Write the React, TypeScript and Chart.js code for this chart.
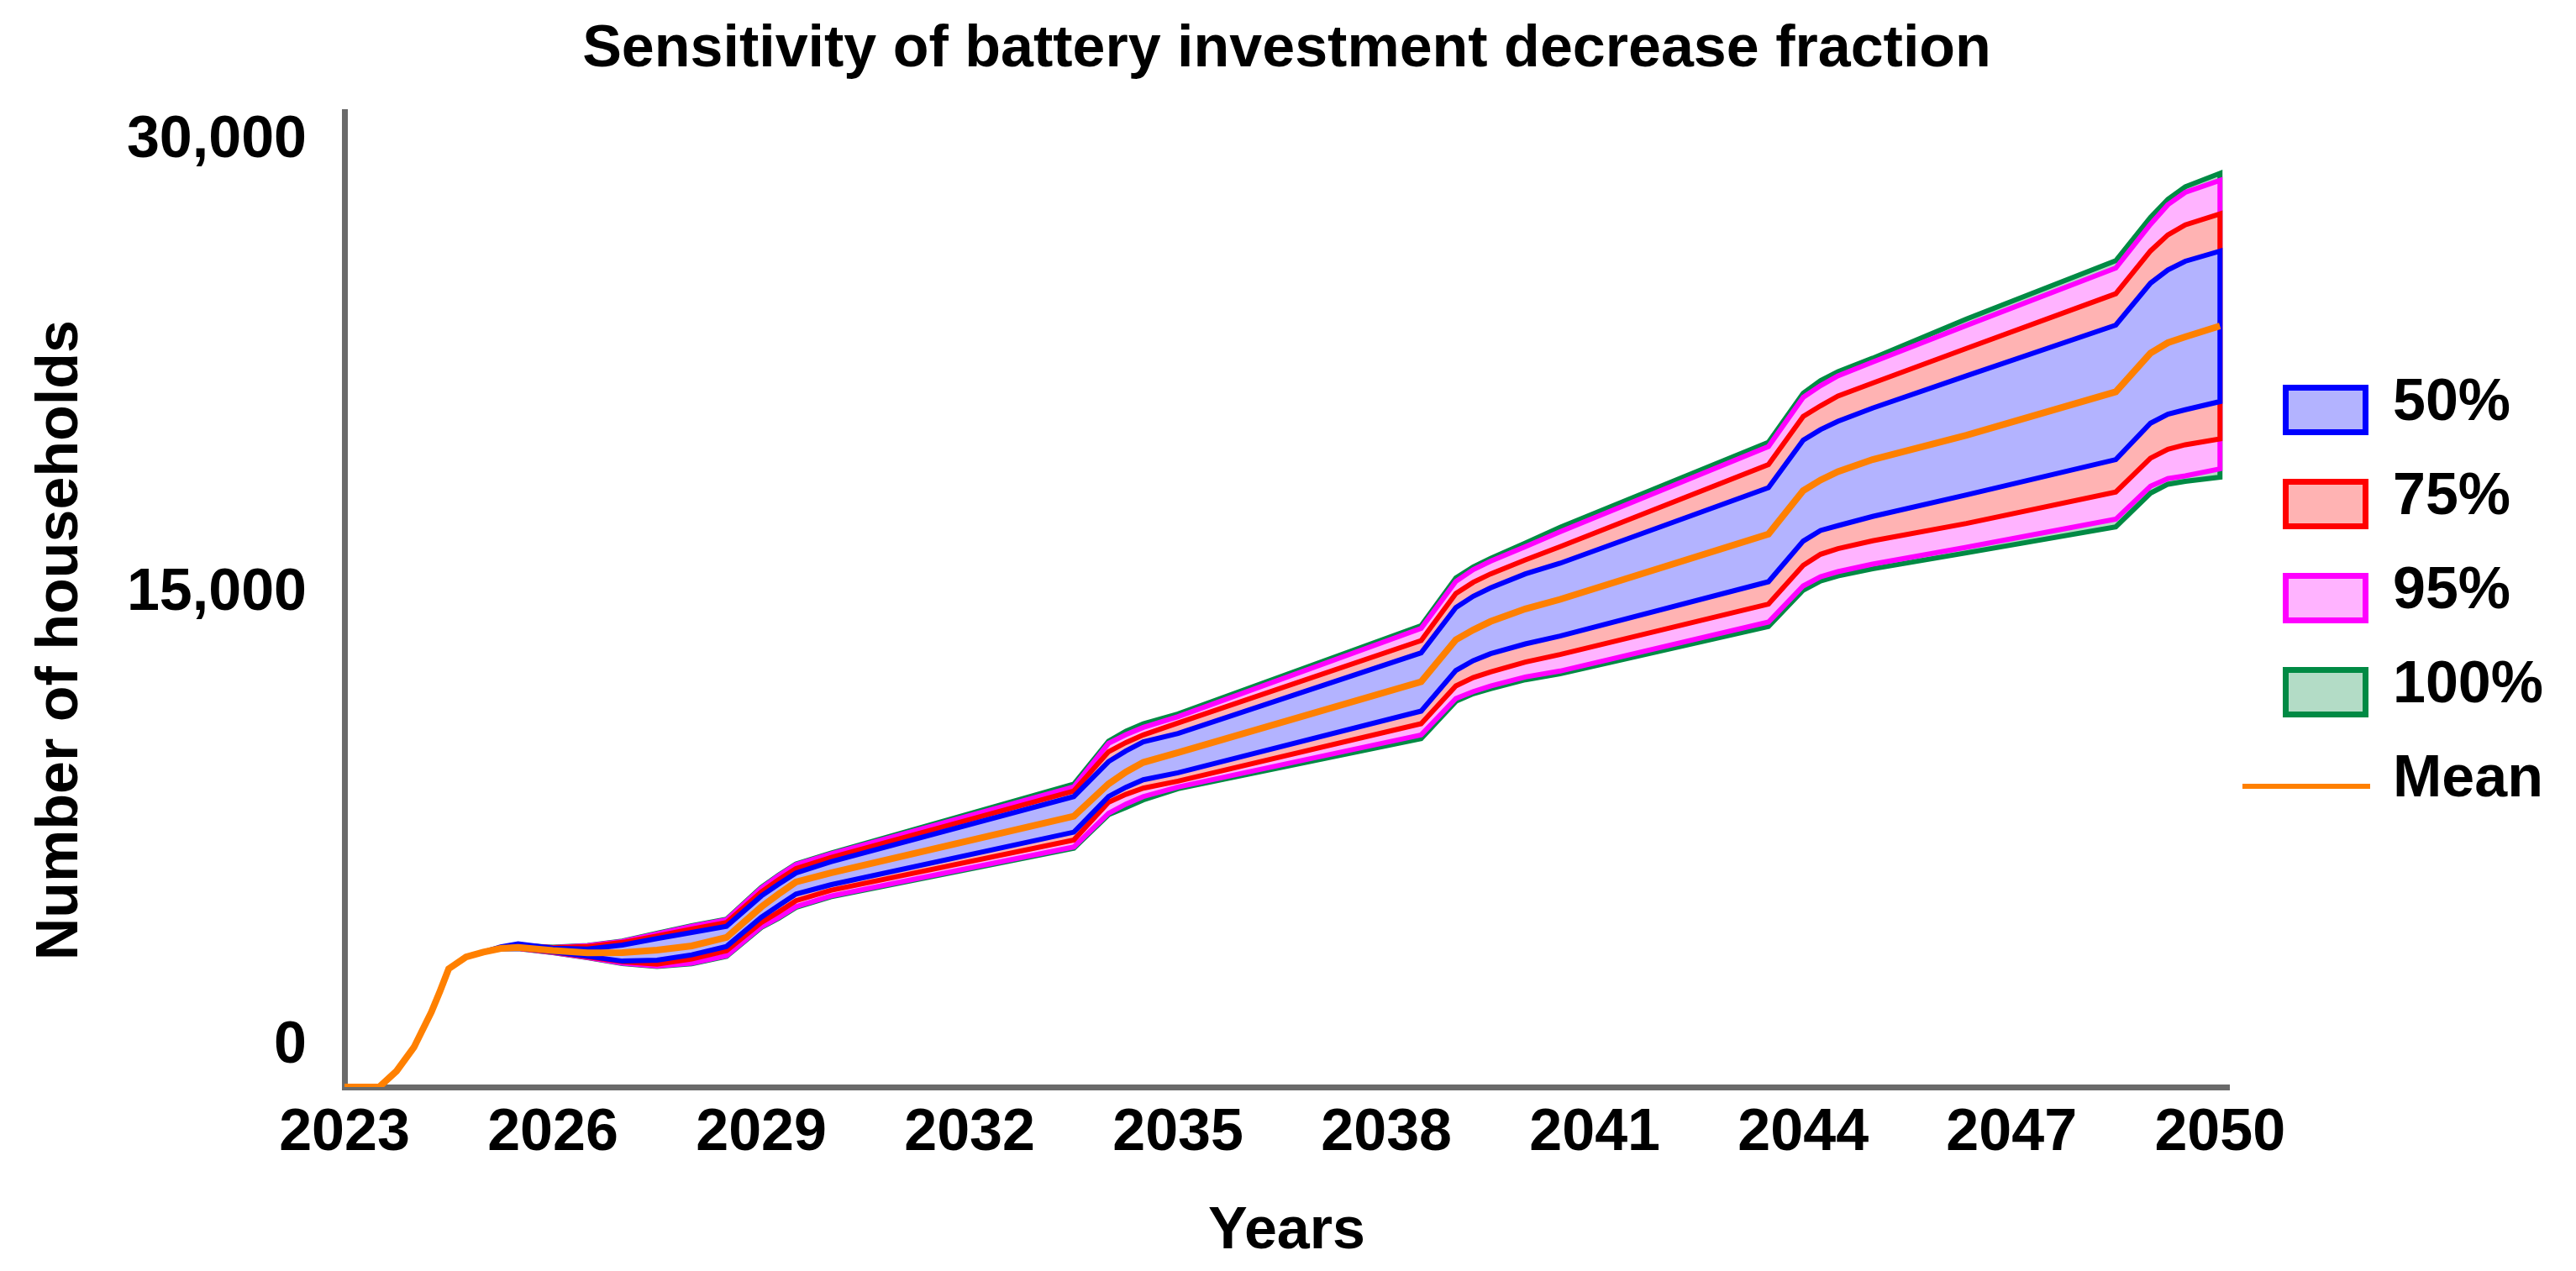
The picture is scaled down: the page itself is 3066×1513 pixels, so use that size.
import React, { useEffect, useRef } from 'react';
import { Chart, registerables } from 'chart.js';

Chart.register(...registerables);

// ---------------- data ----------------
const years = [2023, 2023.5, 2023.75, 2024, 2024.25, 2024.375, 2024.5, 2024.75, 2025, 2025.25, 2025.5, 2026, 2026.5, 2027, 2027.5, 2028, 2028.5, 2029, 2029.25, 2029.5, 2030, 2033.5, 2034, 2034.25, 2034.5, 2035, 2038.5, 2039, 2039.25, 2039.5, 2040, 2040.5, 2043.5, 2044, 2044.25, 2044.5, 2045, 2046.35, 2048.5, 2049, 2049.25, 2049.5, 2050];

const xTicks = [2023, 2026, 2029, 2032, 2035, 2038, 2041, 2044, 2047, 2050];
const yTicks = [0, 15000, 30000];

const meanValues = [0, 0, 530, 1317, 2477, 3173, 3915, 4305, 4470, 4590, 4628, 4520, 4445, 4450, 4536, 4675, 4954, 5964, 6392, 6791, 7088, 8970, 10038, 10436, 10750, 11076, 13423, 14814, 15140, 15418, 15835, 16150, 18312, 19751, 20102, 20380, 20780, 21588, 23024, 24305, 24649, 24844, 25206];

const p50Upper = [0, 0, 530, 1317, 2477, 3173, 3915, 4305, 4470, 4640, 4740, 4600, 4570, 4703, 4917, 5121, 5325, 6326, 6716, 7088, 7458, 9620, 10779, 11132, 11429, 11708, 14379, 15882, 16253, 16531, 16995, 17347, 19851, 21421, 21772, 22050, 22487, 23553, 25233, 26625, 27059, 27349, 27682];
const p50Lower = [0, 0, 530, 1317, 2477, 3173, 3915, 4305, 4470, 4590, 4610, 4480, 4330, 4170, 4200, 4379, 4656, 5622, 6011, 6392, 6698, 8441, 9620, 9927, 10177, 10408, 12449, 13795, 14119, 14352, 14675, 14936, 16735, 18081, 18432, 18591, 18897, 19612, 20780, 21986, 22283, 22431, 22701];

const p75Upper = [0, 0, 530, 1317, 2477, 3173, 3915, 4305, 4470, 4610, 4700, 4610, 4650, 4790, 5000, 5230, 5446, 6457, 6866, 7236, 7598, 9805, 11104, 11410, 11661, 12059, 14787, 16345, 16717, 16995, 17458, 17895, 20614, 22209, 22562, 22885, 23313, 24463, 26272, 27691, 28220, 28554, 28915];
const p75Lower = [0, 0, 530, 1317, 2477, 3173, 3915, 4305, 4470, 4590, 4600, 4470, 4310, 4150, 4072, 4239, 4517, 5446, 5797, 6170, 6512, 8182, 9434, 9694, 9899, 10130, 12032, 13283, 13562, 13748, 14073, 14324, 15994, 17274, 17644, 17831, 18090, 18665, 19704, 20826, 21123, 21271, 21466];

const p95Upper = [0, 0, 530, 1317, 2477, 3173, 3915, 4305, 4470, 4600, 4680, 4620, 4680, 4823, 5074, 5325, 5538, 6587, 6994, 7366, 7718, 9944, 11383, 11670, 11911, 12265, 15187, 16746, 17135, 17413, 17895, 18387, 21215, 22840, 23229, 23553, 24009, 25223, 27125, 28573, 29222, 29630, 30028];
const p95Lower = [0, 0, 530, 1317, 2477, 3173, 3915, 4305, 4470, 4580, 4590, 4460, 4290, 4100, 4008, 4100, 4350, 5307, 5613, 5975, 6326, 7951, 9064, 9371, 9620, 9935, 11661, 12866, 13098, 13283, 13581, 13776, 15399, 16595, 16901, 17068, 17319, 17876, 18805, 19898, 20149, 20241, 20474];

const p100Upper = [0, 0, 530, 1317, 2477, 3173, 3915, 4305, 4470, 4600, 4690, 4630, 4690, 4835, 5090, 5340, 5560, 6610, 7016, 7390, 7745, 10030, 11450, 11781, 12031, 12357, 15279, 16857, 17227, 17505, 18015, 18535, 21354, 22979, 23396, 23692, 24137, 25437, 27366, 28804, 29397, 29815, 30260];
const p100Lower = [0, 0, 530, 1317, 2477, 3173, 3915, 4305, 4470, 4580, 4585, 4450, 4280, 4090, 3995, 4085, 4330, 5280, 5585, 5950, 6300, 7910, 9020, 9259, 9510, 9880, 11541, 12774, 13024, 13191, 13488, 13684, 15251, 16456, 16762, 16929, 17163, 17691, 18554, 19667, 19963, 20057, 20196];

const bandLabels = ['50%', '75%', '95%', '100%'];
const meanLabel = 'Mean';
const titleText = 'Sensitivity of battery investment decrease fraction';
const xTitle = 'Years';
const yTitle = 'Number of households';

// ---------------- styles ----------------
const FONT = "'Liberation Sans', Arial, Helvetica, sans-serif";
const AXIS_COLOR = '#6a6a6a';
const bandStroke = ['#0000ff', '#ff0000', '#ff00ff', '#008a44'];
const bandFill = ['#b3b3ff', '#ffb3b3', '#ffb3ff', '#b3dcc6'];
const meanColor = '#ff8000';

function polygon(upper: number[], lower: number[]) {
  const pts: { x: number; y: number }[] = years.map((x, i) => ({ x, y: upper[i] }));
  for (let i = years.length - 1; i >= 0; i--) pts.push({ x: years[i], y: lower[i] });
  pts.push({ x: years[0], y: upper[0] });
  return pts;
}

const legendPlugin = {
  id: 'sideLegend',
  afterDraw(chart: any) {
    const ctx = chart.ctx as CanvasRenderingContext2D;
    const boxX = 2717;
    const boxW = 102;
    const boxH = 60;
    const y0 = 488;
    const step = 112;
    const textX = 2848;
    const bw = 7;
    ctx.save();
    chart.data.datasets.forEach((ds: any, i: number) => {
      const cy = y0 + i * step;
      if (ds.fill) {
        ctx.fillStyle = ds.backgroundColor;
        ctx.strokeStyle = ds.borderColor;
        ctx.lineWidth = bw;
        ctx.fillRect(boxX + bw / 2, cy - boxH / 2 + bw / 2, boxW - bw, boxH - bw);
        ctx.strokeRect(boxX + bw / 2, cy - boxH / 2 + bw / 2, boxW - bw, boxH - bw);
      } else {
        ctx.strokeStyle = ds.borderColor;
        ctx.lineWidth = 6;
        ctx.beginPath();
        ctx.moveTo(2669, cy);
        ctx.lineTo(2821, cy);
        ctx.stroke();
      }
      ctx.fillStyle = '#000';
      ctx.font = `bold 70px ${FONT}`;
      ctx.textAlign = 'left';
      ctx.textBaseline = 'alphabetic';
      ctx.fillText(ds.label, textX, cy + 12);
    });
    ctx.restore();
  },
};

export default function App() {
  const canvasRef = useRef<HTMLCanvasElement | null>(null);

  useEffect(() => {
    const canvas = canvasRef.current;
    if (!canvas) return;
    Chart.defaults.font.family = FONT;

    const uppers = [p50Upper, p75Upper, p95Upper, p100Upper];
    const lowers = [p50Lower, p75Lower, p95Lower, p100Lower];
    const datasets: any[] = bandLabels.map((label, i) => ({
      label,
      data: polygon(uppers[i], lowers[i]),
      borderColor: bandStroke[i],
      backgroundColor: bandFill[i],
      borderWidth: 6,
      fill: 'shape',
      pointRadius: 0,
      tension: 0,
      order: i + 1,
    }));
    datasets.push({
      label: meanLabel,
      data: years.map((x, i) => ({ x, y: meanValues[i] })),
      borderColor: meanColor,
      backgroundColor: meanColor,
      borderWidth: 8,
      fill: false,
      pointRadius: 0,
      tension: 0,
      order: 0,
    });

    const bold70 = { family: FONT, size: 70, weight: 'bold' as const, lineHeight: 1 };

    const chart = new Chart(canvas, {
      type: 'line',
      data: { datasets },
      options: {
        animation: false,
        responsive: true,
        maintainAspectRatio: false,
        events: [],
        layout: { padding: { left: 0, top: 0, right: 413, bottom: 0 } },
        elements: { point: { radius: 0 }, line: { tension: 0 } },
        plugins: {
          legend: { display: false },
          tooltip: { enabled: false },
          title: {
            display: true,
            fullSize: false,
            text: titleText,
            color: '#000',
            font: bold70,
            padding: { top: 25, bottom: 38 },
          },
        },
        scales: {
          x: {
            type: 'linear',
            min: 2023,
            max: 2050.13,
            afterBuildTicks: (s: any) => {
              s.ticks = xTicks.map((v) => ({ value: v }));
            },
            afterFit: (s: any) => {
              s.height = 219;
              s.paddingLeft = 0;
              s.paddingRight = 0;
            },
            grid: { display: false, drawTicks: false },
            border: { display: true, color: AXIS_COLOR, width: 7 },
            ticks: {
              color: '#000',
              font: bold70,
              padding: 21,
              autoSkip: false,
              maxRotation: 0,
              minRotation: 0,
              callback: (v: any) => String(v),
            },
            title: {
              display: true,
              text: xTitle,
              color: '#000',
              font: bold70,
              padding: { top: 0, bottom: 11 },
            },
          },
          y: {
            type: 'linear',
            min: 0,
            max: 32300,
            afterBuildTicks: (s: any) => {
              s.ticks = yTicks.map((v) => ({ value: v }));
            },
            afterFit: (s: any) => {
              s.width = 410;
              s.paddingTop = 0;
              s.paddingBottom = 0;
            },
            grid: { display: false, drawTicks: false },
            border: { display: true, color: AXIS_COLOR, width: 7 },
            ticks: {
              color: '#000',
              font: bold70,
              padding: 45,
              labelOffset: -48,
              callback: (v: any) => Number(v).toLocaleString('en-US'),
            },
            title: {
              display: true,
              text: yTitle + '     ',
              color: '#000',
              font: bold70,
              padding: { top: 38, bottom: 0 },
            },
          },
        },
      },
      plugins: [legendPlugin],
    } as any);

    return () => {
      chart.destroy();
    };
  }, []);

  return (
    <div style={{ position: 'absolute', left: 0, top: 0, width: 3066, height: 1513, background: '#fff' }}>
      <canvas ref={canvasRef} />
    </div>
  );
}
